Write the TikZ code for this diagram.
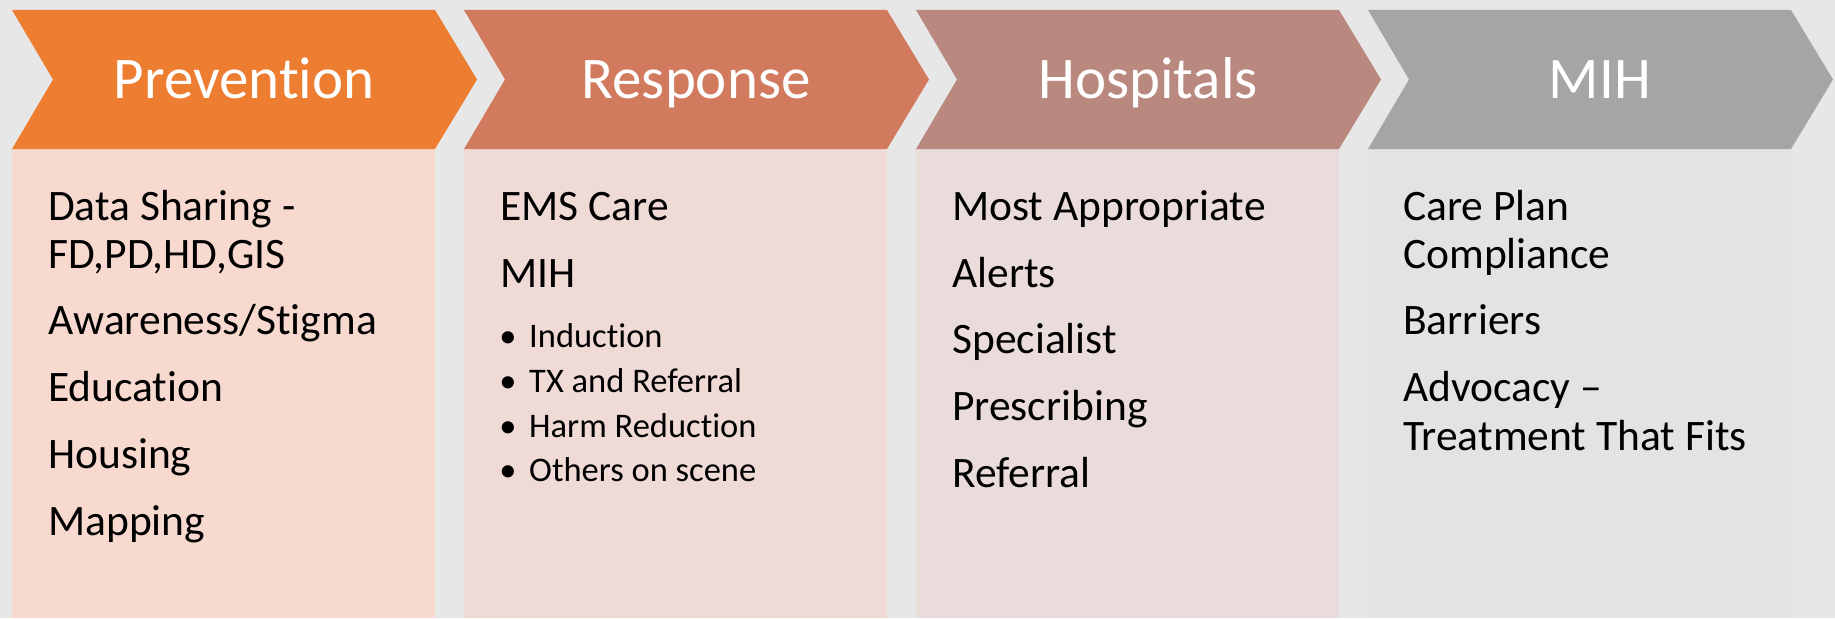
\documentclass[tikz,border=0pt]{standalone}
\usepackage{fontspec}
\setmainfont[RawFeature={-liga;-clig;-calt;-dlig}]{Carlito}
\newcommand{\tiX}{t\kern0pt i}
\definecolor{bgc}{HTML}{E7E7E7}
\definecolor{chA}{HTML}{ED7D31}
\definecolor{chB}{HTML}{D27A5D}
\definecolor{chC}{HTML}{B9897F}
\definecolor{chD}{HTML}{A5A5A5}
\definecolor{bxA}{HTML}{F8D9CF}
\definecolor{bxB}{HTML}{F0DAD6}
\definecolor{bxC}{HTML}{EADCDB}
\definecolor{bxD}{HTML}{E3E3E3}
\begin{document}
\begin{tikzpicture}[x=1pt,y=-1pt,
  headtxt/.style={anchor=base,inner sep=0pt,text=white,font=\fontsize{59}{70}\selectfont},
  bodytxt/.style={anchor=base west,inner sep=0pt,text=black,font=\fontsize{43.5}{52}\selectfont},
  subtxt/.style={anchor=base west,inner sep=0pt,text=black,font=\fontsize{34.5}{42}\selectfont},
  bul/.style={anchor=base,inner sep=0pt,text=black,font=\fontsize{34.5}{42}\selectfont}]
\fill[bgc] (0,0) rectangle (1835,618);
\useasboundingbox (0,0) rectangle (1835,618);
% panels
\foreach \L/\cc/\bc in {12/chA/bxA,464/chB/bxB,916/chC/bxC,1368/chD/bxD}{
  \fill[\bc] (\L,149) rectangle (\L+423,618);
  \fill[\cc] (\L,10) -- (\L+423,10) -- (\L+465,79.5) -- (\L+423,149) -- (\L,149) -- (\L+41,79.5) -- cycle;
}
% headers
\node[headtxt] (hA) at (244,98) {Preven\tiX on};
\node[headtxt] (hB) at (696,98) {Response};
\node[headtxt] (hC) at (1148,98) {Hospitals};
\node[headtxt] (hD) at (1600,98) {MIH};
% panel 1
\node[bodytxt] (a1) at (48,220) {Data Sharing -};
\node[bodytxt] (a2) at (48,268) {FD,PD,HD,GIS};
\node[bodytxt] (a3) at (48,334) {Awareness/S\tiX gma};
\node[bodytxt] (a4) at (48,401) {Educa\tiX on};
\node[bodytxt] (a5) at (48,468) {Housing};
\node[bodytxt] (a6) at (48,535) {Mapping};
% panel 2
\node[bodytxt] (b1) at (500,220) {EMS Care};
\node[bodytxt] (b2) at (500,287) {MIH};
\node[bul] (bb1) at (508,347) {\textbullet};
\node[subtxt] (b3) at (529,347) {Induc\tiX on};
\node[bul] (bb2) at (508,392) {\textbullet};
\node[subtxt] (b4) at (529,392) {TX and Referral};
\node[bul] (bb3) at (508,437) {\textbullet};
\node[subtxt] (b5) at (529,437) {Harm Reduc\tiX on};
\node[bul] (bb4) at (508,481) {\textbullet};
\node[subtxt] (b6) at (529,481) {Others on scene};
% panel 3
\node[bodytxt] (c1) at (952,220) {Most Appropriate};
\node[bodytxt] (c2) at (952,287) {Alerts};
\node[bodytxt] (c3) at (952,353) {Specialist};
\node[bodytxt] (c4) at (952,420) {Prescribing};
\node[bodytxt] (c5) at (952,487) {Referral};
% panel 4
\node[bodytxt] (d1) at (1403,220) {Care Plan};
\node[bodytxt] (d2) at (1403,268) {Compliance};
\node[bodytxt] (d3) at (1403,334) {Barriers};
\node[bodytxt] (d4) at (1403,401) {Advocacy –};
\node[bodytxt] (d5) at (1403,450) {Treatment That Fits};
\end{tikzpicture}
\end{document}
